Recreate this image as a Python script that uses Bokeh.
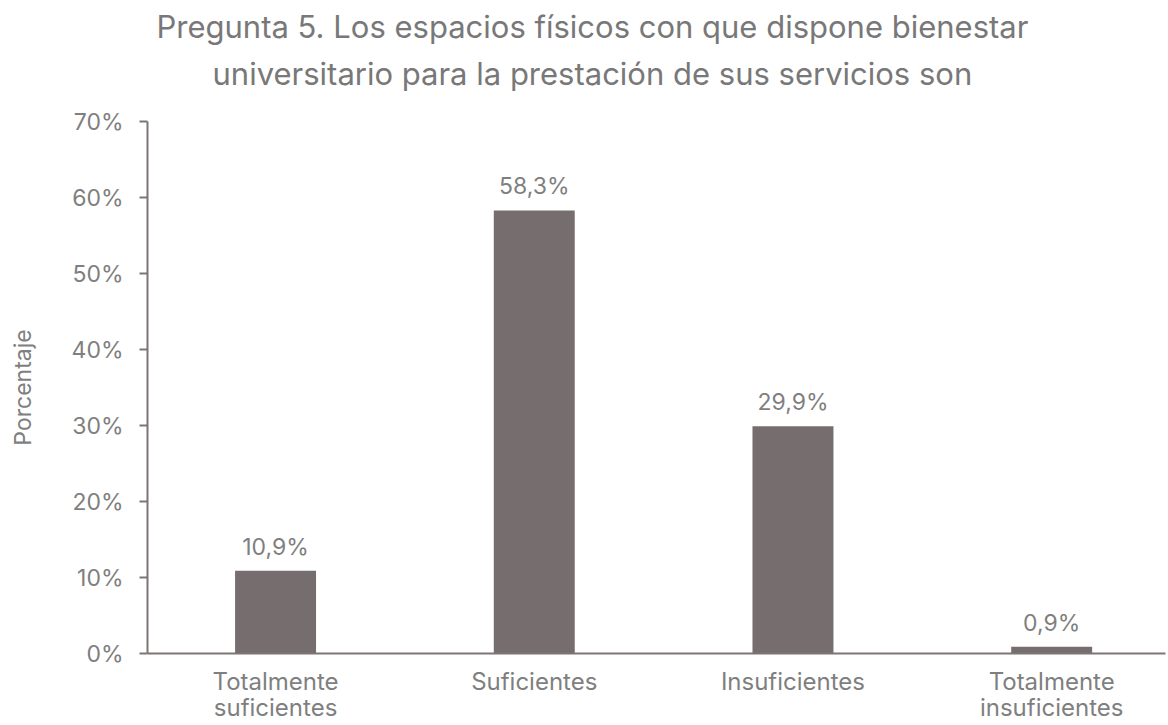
from bokeh.plotting import figure
from bokeh.models import ColumnDataSource, LabelSet, Range1d, FixedTicker, Title
from bokeh.core.properties import value
from bokeh.embed import file_html
from bokeh.resources import INLINE

categories = ["Totalmente\nsuficientes", "Suficientes", "Insuficientes", "Totalmente\ninsuficientes"]
values = [10.9, 58.3, 29.9, 0.9]
y_ticks = [0, 10, 20, 30, 40, 50, 60, 70]
y_tick_labels = ["0%", "10%", "20%", "30%", "40%", "50%", "60%", "70%"]
title_lines = ["Pregunta 5. Los espacios físicos con que dispone bienestar",
               "universitario para la prestación de sus servicios son"]
y_label = "Porcentaje"

FONT = "Inter"
TEXT = "#7f7f7f"
TITLE_C = "#787878"
BAR = "#766e6e"
AXIS = "#7d7575"

x = list(range(len(categories)))
labels = [f"{v:.1f}".replace(".", ",") + "%" for v in values]
src = ColumnDataSource(dict(x=x, top=values, label=labels))

p = figure(width=1168, height=725, x_range=Range1d(-0.495, 3.44), y_range=Range1d(0, 70),
           output_backend="svg", toolbar_location=None, title=None,
           min_border_left=147, min_border_right=3, min_border_top=121, min_border_bottom=71)
p.outline_line_color = None
p.grid.grid_line_color = None

p.vbar(x="x", top="top", width=0.313, bottom=0, source=src, fill_color=BAR, line_color=None)

# y axis
p.yaxis.ticker = FixedTicker(ticks=y_ticks)
p.yaxis.major_label_overrides = {t: l for t, l in zip(y_ticks, y_tick_labels)}
p.yaxis.axis_line_color = AXIS
p.yaxis.axis_line_width = 2
p.yaxis.major_tick_line_color = AXIS
p.yaxis.major_tick_line_width = 2
p.yaxis.major_tick_out = 8
p.yaxis.major_tick_in = 0
p.yaxis.minor_tick_line_color = None
p.yaxis.major_label_standoff = 16
p.yaxis.major_label_text_font = FONT
p.yaxis.major_label_text_font_size = "23px"
p.yaxis.major_label_text_color = TEXT
p.yaxis.axis_label = y_label
p.yaxis.axis_label_text_font = FONT
p.yaxis.axis_label_text_font_size = "23px"
p.yaxis.axis_label_text_font_style = "normal"
p.yaxis.axis_label_text_color = TEXT
p.yaxis.axis_label_standoff = 32

# x axis with category labels
p.xaxis.ticker = FixedTicker(ticks=x)
p.xaxis.major_label_overrides = {i: c for i, c in zip(x, categories)}
p.xaxis.axis_line_color = AXIS
p.xaxis.axis_line_width = 2
p.xaxis.major_tick_line_color = None
p.xaxis.minor_tick_line_color = None
p.xaxis.major_label_standoff = 7
p.xaxis.major_label_text_font = FONT
p.xaxis.major_label_text_font_size = "24px"
p.xaxis.major_label_text_color = TEXT
p.xaxis.major_label_text_line_height = 0.93

# value labels
p.add_layout(LabelSet(x="x", y="top", text="label", source=src, y_offset=16,
                      text_align="center", text_baseline="alphabetic", text_font=value(FONT),
                      text_font_size="23px", text_color=TEXT))

# title (two lines, last added is topmost)
p.add_layout(Title(text=title_lines[1], align="left", offset=65, text_font=FONT,
                   text_font_size="31px", text_font_style="normal", text_color=TITLE_C,
                   standoff=60), "above")
p.add_layout(Title(text=title_lines[0], align="left", offset=9, text_font=FONT,
                   text_font_size="31px", text_font_style="normal", text_color=TITLE_C,
                   standoff=-45, padding=dict(top=8, bottom=0, left=0, right=0)), "above")

open("out.html", "w").write(file_html(p, INLINE))
